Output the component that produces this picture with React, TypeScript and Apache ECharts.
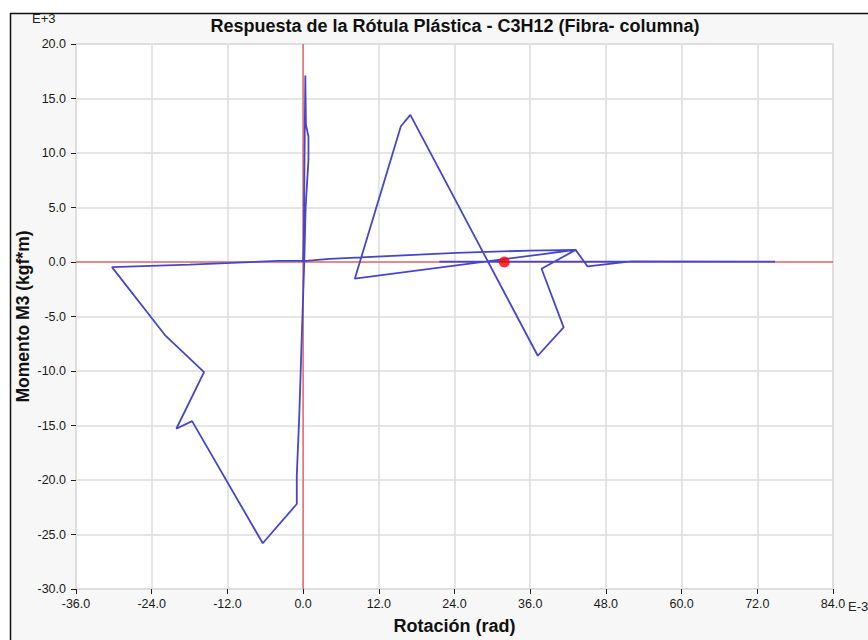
import React, { useEffect, useRef } from "react";
import * as echarts from "echarts";

const rotation = [
  0, 0.1, 0.35, 0.45, 0.85, 0.85, 0.4, 0.2, -0.3, -0.6, -1.0, -1.0, -6.4, -17.6, -20.1, -15.7, -21.9,
  -30.3, -18, -4, 0.5, 4.2, 24.3, 35.9, 43.2, 37.8, 41.3, 37.2, 17.0, 15.5, 8.2, 43.2, 45.1, 52.0,
  74.8, 21.6,
];
const moment = [
  0, 2, 17.1, 12.6, 11.5, 9.4, 5, 0.3, -8.5, -14, -19.6, -22.2, -25.8, -14.6, -15.3, -10.1, -6.7,
  -0.47, -0.25, 0.1, 0.1, 0.29, 0.84, 1.05, 1.11, -0.62, -6.0, -8.6, 13.5, 12.45, -1.53, 1.11, -0.41,
  0.05, 0.03, 0.03,
];
const currentPoint = [31.9, 0.0];
const xRange = [-36, 84];
const yRange = [-30, 20];

const title = "Respuesta de la Rótula Plástica - C3H12 (Fibra- columna)";
const xName = "Rotación (rad)";
const yName = "Momento M3 (kgf*m)";

export default function App() {
  const ref = useRef<HTMLDivElement>(null);
  useEffect(() => {
    document.body.style.margin = "0";
    const chart = echarts.init(ref.current!, null, { renderer: "svg" });
    const font = "Liberation Sans";
    const pathData = rotation.map((r, i) => [r, moment[i]]);
    chart.setOption({
      animation: false,
      backgroundColor: "#ffffff",
      title: {
        text: title,
        left: 450,
        textAlign: "center",
        top: 12,
        textStyle: { fontFamily: font, fontSize: 18, fontWeight: "bold", color: "#111" },
      },
      graphic: [
        {
          type: "rect",
          z: -10,
          shape: { x: 10.5, y: 13.5, width: 900, height: 700 },
          style: { fill: "#f7f7f7", stroke: "#111", lineWidth: 1.5 },
          silent: true,
        },
        {
          type: "text",
          x: 32,
          y: 12,
          style: {
            text: "E+3",
            fontFamily: font,
            fontSize: 13,
            fill: "#222",
            verticalAlign: "top",
          },
        },
        {
          type: "text",
          x: 848,
          y: 600,
          style: {
            text: "E-3",
            fontFamily: font,
            fontSize: 13,
            fill: "#222",
            verticalAlign: "top",
          },
        },
      ],
      grid: {
        left: 76,
        right: 35,
        top: 44,
        bottom: 48,
        show: true,
        backgroundColor: "#ffffff",
        borderColor: "#dcdcdc",
        borderWidth: 1.5,
      },
      xAxis: {
        type: "value",
        min: xRange[0],
        max: xRange[1],
        interval: 12,
        name: xName,
        nameLocation: "middle",
        nameGap: 28,
        nameMoveOverlap: false,
        nameTextStyle: { fontFamily: font, fontSize: 18, fontWeight: "bold", color: "#111" },
        axisLine: { show: false, onZero: false },
        axisTick: { show: true, length: 5, lineStyle: { color: "#222" } },
        axisLabel: {
          margin: 8,
          fontFamily: font,
          fontSize: 12.5,
          color: "#1a1a1a",
          formatter: (v: number) => v.toFixed(1),
        },
        splitLine: { show: true, lineStyle: { color: "#dcdcdc", width: 1.5 } },
      },
      yAxis: {
        type: "value",
        min: yRange[0],
        max: yRange[1],
        interval: 5,
        name: yName,
        nameLocation: "middle",
        nameGap: 44,
        nameMoveOverlap: false,
        nameTextStyle: { fontFamily: font, fontSize: 17.5, fontWeight: "bold", color: "#111" },
        axisLine: { show: false, onZero: false },
        axisTick: { show: true, length: 5, lineStyle: { color: "#222" } },
        axisLabel: {
          margin: 10,
          fontFamily: font,
          fontSize: 12.5,
          color: "#1a1a1a",
          formatter: (v: number) => v.toFixed(1),
        },
        splitLine: { show: true, lineStyle: { color: "#dcdcdc", width: 1.5 } },
      },
      series: [
        {
          type: "line",
          data: [
            [0, yRange[0]],
            [0, yRange[1]],
          ],
          symbol: "none",
          silent: true,
          lineStyle: { color: "#e53030", width: 1 },
          z: 2,
        },
        {
          type: "line",
          data: [
            [xRange[0], 0],
            [xRange[1], 0],
          ],
          symbol: "none",
          silent: true,
          lineStyle: { color: "#e53030", width: 1 },
          z: 2,
        },
        {
          type: "line",
          data: pathData,
          showSymbol: false,
          symbol: "none",
          lineStyle: { color: "#4646cc", width: 1.8 },
          z: 3,
        },
        {
          type: "scatter",
          data: [currentPoint],
          symbol: "circle",
          symbolSize: 11,
          itemStyle: { color: "#ff0000" },
          z: 4,
        },
      ],
    });
    return () => chart.dispose();
  }, []);
  return <div ref={ref} style={{ width: 868, height: 640 }} />;
}
